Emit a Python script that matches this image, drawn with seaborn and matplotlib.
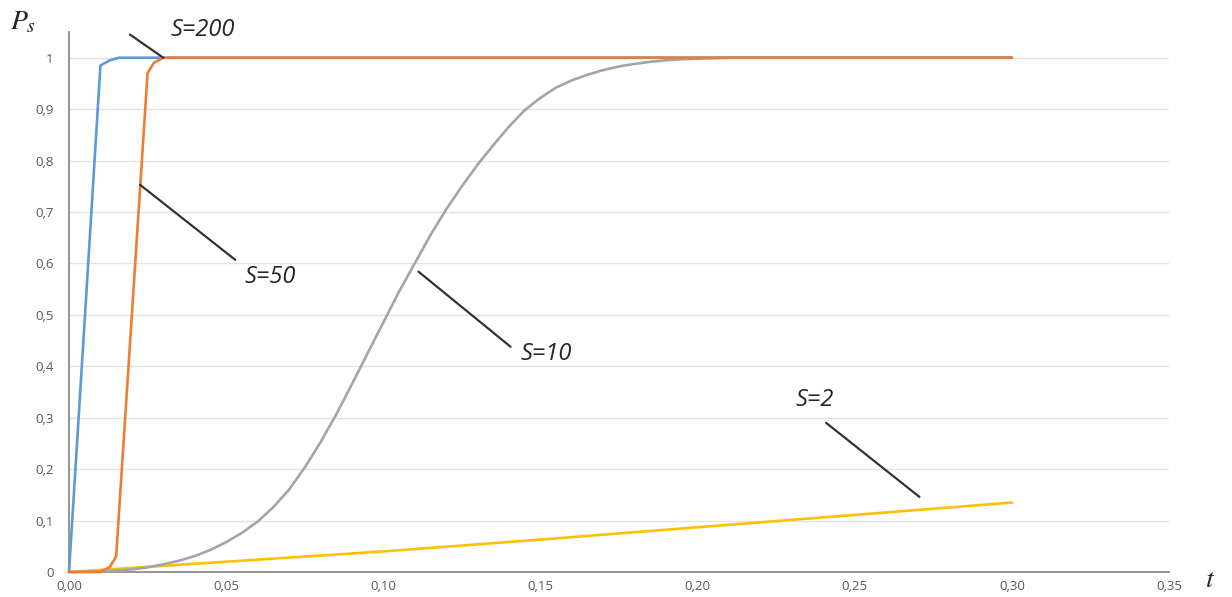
import numpy as np
import pandas as pd
import matplotlib
matplotlib.use("Agg")
import matplotlib.pyplot as plt
import seaborn as sns

# ---- data ----
t_s200 = [0.0, 0.005, 0.010, 0.013, 0.016, 0.020, 0.030, 0.300]
p_s200 = [0.0, 0.49, 0.985, 0.995, 1.0, 1.0, 1.0, 1.0]

t_s50 = [0.0, 0.005, 0.010, 0.013, 0.015, 0.020, 0.025, 0.027, 0.030, 0.300]
p_s50 = [0.0, 0.0, 0.0, 0.01, 0.03, 0.50, 0.97, 0.99, 1.0, 1.0]

t_s10 = [0.000, 0.005, 0.010, 0.015, 0.020, 0.025, 0.030, 0.035, 0.040, 0.045,
         0.050, 0.055, 0.060, 0.065, 0.070, 0.075, 0.080, 0.085, 0.090, 0.095,
         0.100, 0.105, 0.110, 0.115, 0.120, 0.125, 0.130, 0.135, 0.140, 0.145,
         0.150, 0.155, 0.160, 0.165, 0.170, 0.175, 0.180, 0.185, 0.190, 0.195,
         0.200, 0.205, 0.210, 0.220, 0.250, 0.300]
p_s10 = [0.0, 0.0002, 0.001, 0.0025, 0.005, 0.009, 0.015, 0.022, 0.031, 0.043,
         0.058, 0.076, 0.098, 0.126, 0.160, 0.203, 0.252, 0.306, 0.365, 0.425,
         0.485, 0.545, 0.600, 0.655, 0.705, 0.750, 0.792, 0.830, 0.866, 0.898,
         0.922, 0.942, 0.956, 0.967, 0.976, 0.983, 0.988, 0.992, 0.995, 0.997,
         0.998, 0.999, 1.0, 1.0, 1.0, 1.0]

t_s2 = [0.0, 0.05, 0.10, 0.15, 0.20, 0.25, 0.30]
p_s2 = [0.0, 0.02, 0.04, 0.063, 0.087, 0.111, 0.135]

series_names = ["S=200", "S=50", "S=10", "S=2"]
series_colors = ["#5B9BD5", "#ED7D31", "#A5A5A5", "#FFC000"]

x_ticks = [0.00, 0.05, 0.10, 0.15, 0.20, 0.25, 0.30, 0.35]
x_tick_labels = ["0,00", "0,05", "0,10", "0,15", "0,20", "0,25", "0,30", "0,35"]
y_ticks = [0.0, 0.1, 0.2, 0.3, 0.4, 0.5, 0.6, 0.7, 0.8, 0.9, 1.0]
y_tick_labels = ["0", "0,1", "0,2", "0,3", "0,4", "0,5", "0,6", "0,7", "0,8", "0,9", "1"]

# annotation leader lines: (t_start, p_start, t_end, p_end), label position
leaders = {
    "S=200": ((0.0194, 1.045, 0.0300, 1.0), (0.0427, 1.054)),
    "S=50": ((0.0226, 0.753, 0.0529, 0.607), (0.0640, 0.574)),
    "S=10": ((0.1112, 0.584, 0.1405, 0.438), (0.1517, 0.424)),
    "S=2": ((0.2409, 0.290, 0.2706, 0.146), (0.2374, 0.335)),
}

# ---- build long table ----
frames = []
for name, tt, pp in [("S=200", t_s200, p_s200), ("S=50", t_s50, p_s50),
                     ("S=10", t_s10, p_s10), ("S=2", t_s2, p_s2)]:
    frames.append(pd.DataFrame({"t": tt, "P": pp, "S": name}))
df = pd.concat(frames, ignore_index=True)

sns.set_style("white")
plt.rcParams["font.family"] = ["Open Sans", "DejaVu Sans"]
plt.rcParams["mathtext.fontset"] = "stix"

fig = plt.figure(figsize=(12.32, 5.97), dpi=100)
ax = fig.add_axes([69 / 1232, 1 - 572 / 597, (1169 - 69) / 1232, (572 - 32) / 597])

# draw in order: yellow, gray, blue, orange (orange on top)
order = ["S=2", "S=10", "S=200", "S=50"]
palette = dict(zip(series_names, series_colors))
for name in order:
    sns.lineplot(data=df[df["S"] == name], x="t", y="P", color=palette[name],
                 linewidth=1.9, ax=ax, legend=False, sort=False,
                 solid_joinstyle="round", solid_capstyle="round",
                 clip_on=False, zorder=3)

ax.set_xlim(0, 0.35)
ax.set_ylim(0, 1.05)
ax.set_xticks(x_ticks)
ax.set_xticklabels(x_tick_labels)
ax.set_yticks(y_ticks)
ax.set_yticklabels(y_tick_labels)
ax.set_xlabel("")
ax.set_ylabel("")

ax.yaxis.grid(True, color="#E3E3E3", linewidth=1.0)
ax.xaxis.grid(False)
ax.set_axisbelow(True)

for side in ["top", "right"]:
    ax.spines[side].set_visible(False)
for side in ["left", "bottom"]:
    ax.spines[side].set_color("#8C8C8C")
    ax.spines[side].set_linewidth(1.3)

ax.tick_params(axis="both", colors="#8C8C8C", labelcolor="#595959",
               labelsize=9.5, direction="out", length=4, width=1.2)
ax.tick_params(axis="y", pad=7)
ax.tick_params(axis="x", pad=2)

for name, ((x0, y0, x1, y1), (tx, ty)) in leaders.items():
    ax.plot([x0, x1], [y0, y1], color="#333333", linewidth=1.6,
            clip_on=False, zorder=4)
    ax.text(tx, ty, name, fontsize=17, style="italic", color="#262626",
            ha="center", va="center", zorder=5)

fig.text(10 / 1232, 1 - 22 / 597, r"$P_s$", fontsize=20, color="#262626",
         ha="left", va="center")
fig.text(1210 / 1232, 1 - 580 / 597, r"$t$", fontsize=20, color="#262626",
         ha="center", va="center")

fig.savefig("out.png", dpi=100, facecolor="white")
